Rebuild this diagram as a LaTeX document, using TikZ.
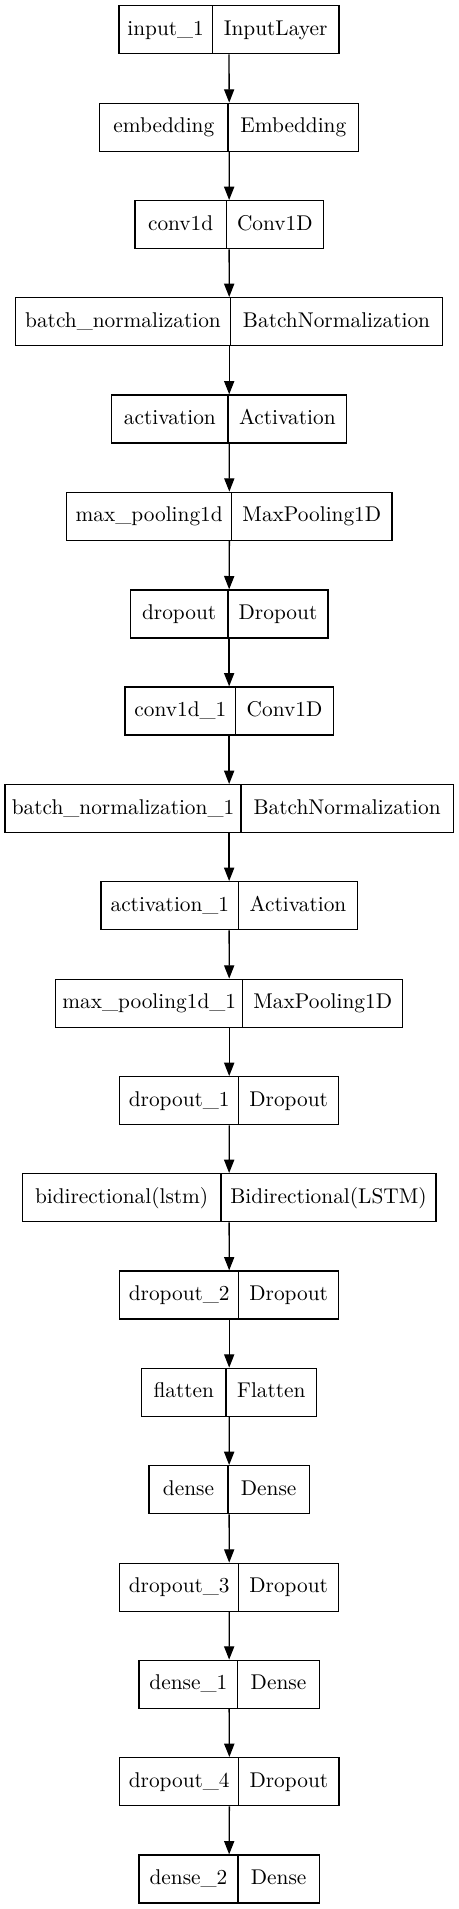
\documentclass[tikz,border=0pt]{standalone}
\usepackage{fontspec}
\setmainfont{lmroman10-regular}[Extension=.otf]
\usetikzlibrary{arrows.meta}
\tikzset{
  layerbox/.style={draw=black, line width=1pt, rectangle, inner sep=0pt, minimum height=36pt},
  divider/.style={draw=black, line width=1pt},
  fieldtext/.style={inner sep=0pt, anchor=base, font=\fontsize{16}{19}\selectfont},
  edge/.style={draw=black, line width=1pt, -{Triangle[length=10pt,width=7.6pt]}}
}
\newcommand\mylayer[7]{%
  \pgfmathsetmacro\mycx{(#3+#5)/2}%
  \pgfmathsetmacro\mycy{#2+24}%
  \pgfmathsetmacro\myw{(#5-#3)*0.75}%
  \pgfmathsetmacro\mylx{(#3+#4)/2}%
  \pgfmathsetmacro\myrx{(#4+#5)/2}%
  \pgfmathsetmacro\myby{#2+29.6}%
  \node[layerbox, minimum width=\myw pt] (#1) at (\mycx,\mycy) {};
  \draw[divider] ({#4},{#2}) -- ({#4},{#2+48});
  \node[fieldtext] (#1l) at (\mylx,\myby) {#6};
  \node[fieldtext] (#1r) at (\myrx,\myby) {#7};
}
\begin{document}
\begin{tikzpicture}[x=0.75pt, y=-0.75pt]
\useasboundingbox (0,0) rectangle (459,1909);
\mylayer{L1}{5.7}{119}{212.3}{339}{input\_1}{InputLayer}
\mylayer{L2}{103.3}{99.7}{228}{358.7}{embedding}{Embedding}
\mylayer{L3}{200.7}{135}{226.3}{323.3}{conv1d}{Conv1D}
\mylayer{L4}{297.7}{15.7}{230.3}{442.7}{batch\_normalization}{BatchNormalization}
\mylayer{L5}{395}{111.7}{228}{346.7}{activation}{Activation}
\mylayer{L6}{492.3}{66.7}{231.7}{392}{max\_pooling1d}{MaxPooling1D}
\mylayer{L7}{590}{130.3}{228}{328}{dropout}{Dropout}
\mylayer{L8}{687}{125}{235.7}{333.3}{conv1d\_1}{Conv1D}
\mylayer{L9}{784.7}{5}{241}{453.3}{batch\_normalization\_1}{BatchNormalization}
\mylayer{L10}{881.7}{101}{238.7}{357.3}{activation\_1}{Activation}
\mylayer{L11}{979.3}{55.7}{242.7}{402.7}{max\_pooling1d\_1}{MaxPooling1D}
\mylayer{L12}{1076.7}{119.7}{238.7}{338.7}{dropout\_1}{Dropout}
\mylayer{L13}{1173.7}{22.3}{221}{436}{bidirectional(lstm)}{Bidirectional(LSTM)}
\mylayer{L14}{1271}{119.7}{238.7}{338.7}{dropout\_2}{Dropout}
\mylayer{L15}{1368.3}{141.7}{226}{316.7}{flatten}{Flatten}
\mylayer{L16}{1465.7}{149}{228}{309.3}{dense}{Dense}
\mylayer{L17}{1563.3}{119.7}{238.7}{338.7}{dropout\_3}{Dropout}
\mylayer{L18}{1660.3}{139}{237.7}{319.3}{dense\_1}{Dense}
\mylayer{L19}{1757.7}{119.7}{238.7}{339}{dropout\_4}{Dropout}
\mylayer{L20}{1855}{139}{238}{319.3}{dense\_2}{Dense}
\foreach \i [evaluate=\i as \j using int(\i+1)] in {1,...,19}
  \draw[edge] (L\i.south) -- (L\j.north);
\end{tikzpicture}
\end{document}
